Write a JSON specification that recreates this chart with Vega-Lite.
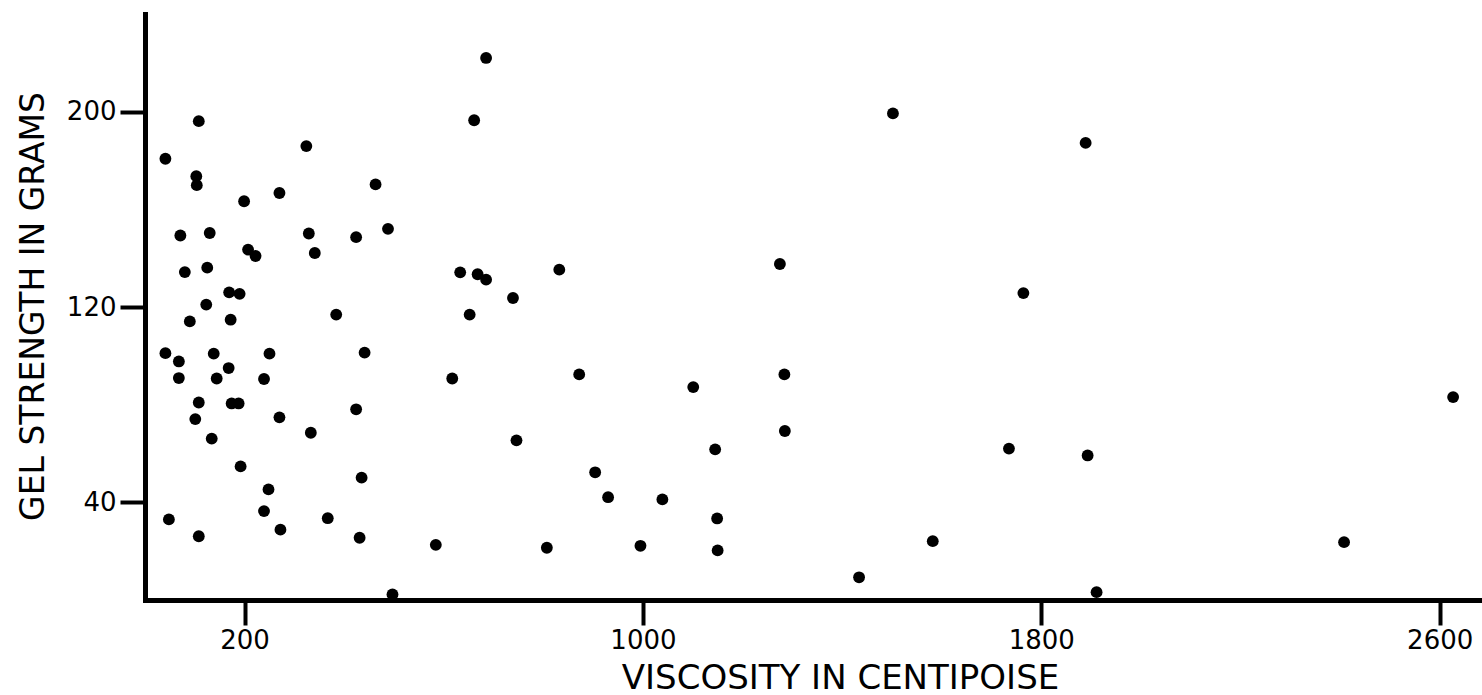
{
  "$schema": "https://vega.github.io/schema/vega-lite/v6.json",
  "autosize": "none",
  "width": 1337,
  "height": 586,
  "padding": {"left": 145, "top": 14, "right": 0, "bottom": 95},
  "background": "white",
  "config": {
    "view": {"stroke": null},
    "font": "DejaVu Sans"
  },
  "data": {
    "values": [
      {"viscosity": 685, "gel": 222.0},
      {"viscosity": 108, "gel": 196.1},
      {"viscosity": 661, "gel": 196.5},
      {"viscosity": 41, "gel": 180.7},
      {"viscosity": 324, "gel": 185.9},
      {"viscosity": 103, "gel": 173.6},
      {"viscosity": 104, "gel": 169.9},
      {"viscosity": 463, "gel": 170.2},
      {"viscosity": 270, "gel": 166.7},
      {"viscosity": 199, "gel": 163.3},
      {"viscosity": 71, "gel": 149.3},
      {"viscosity": 130, "gel": 150.3},
      {"viscosity": 329, "gel": 150.1},
      {"viscosity": 424, "gel": 148.6},
      {"viscosity": 488, "gel": 152.0},
      {"viscosity": 207, "gel": 143.5},
      {"viscosity": 222, "gel": 140.9},
      {"viscosity": 341, "gel": 142.1},
      {"viscosity": 80, "gel": 134.3},
      {"viscosity": 125, "gel": 136.1},
      {"viscosity": 633, "gel": 134.2},
      {"viscosity": 668, "gel": 133.4},
      {"viscosity": 685, "gel": 131.2},
      {"viscosity": 169, "gel": 126.0},
      {"viscosity": 190, "gel": 125.4},
      {"viscosity": 123, "gel": 121.0},
      {"viscosity": 384, "gel": 116.9},
      {"viscosity": 652, "gel": 116.9},
      {"viscosity": 90, "gel": 114.1},
      {"viscosity": 172, "gel": 114.8},
      {"viscosity": 41, "gel": 101.1},
      {"viscosity": 68, "gel": 97.7},
      {"viscosity": 68, "gel": 90.9},
      {"viscosity": 138, "gel": 100.9},
      {"viscosity": 168, "gel": 95.0},
      {"viscosity": 144, "gel": 90.7},
      {"viscosity": 250, "gel": 100.9},
      {"viscosity": 239, "gel": 90.5},
      {"viscosity": 441, "gel": 101.3},
      {"viscosity": 617, "gel": 90.7},
      {"viscosity": 108, "gel": 80.9},
      {"viscosity": 174, "gel": 80.5},
      {"viscosity": 188, "gel": 80.5},
      {"viscosity": 101, "gel": 74.1},
      {"viscosity": 270, "gel": 74.8},
      {"viscosity": 424, "gel": 78.1},
      {"viscosity": 333, "gel": 68.5},
      {"viscosity": 134, "gel": 66.1},
      {"viscosity": 192, "gel": 54.7},
      {"viscosity": 435, "gel": 50.1},
      {"viscosity": 248, "gel": 45.3},
      {"viscosity": 239, "gel": 36.4},
      {"viscosity": 367, "gel": 33.5},
      {"viscosity": 48, "gel": 33.0},
      {"viscosity": 108, "gel": 26.1},
      {"viscosity": 272, "gel": 28.8},
      {"viscosity": 431, "gel": 25.5},
      {"viscosity": 584, "gel": 22.6},
      {"viscosity": 497, "gel": 2.3},
      {"viscosity": 1502, "gel": 199.3},
      {"viscosity": 832, "gel": 135.3},
      {"viscosity": 1275, "gel": 137.6},
      {"viscosity": 739, "gel": 123.7},
      {"viscosity": 872, "gel": 92.4},
      {"viscosity": 1101, "gel": 87.2},
      {"viscosity": 1284, "gel": 92.4},
      {"viscosity": 746, "gel": 65.4},
      {"viscosity": 1285, "gel": 69.2},
      {"viscosity": 1145, "gel": 61.7},
      {"viscosity": 904, "gel": 52.3},
      {"viscosity": 930, "gel": 42.1},
      {"viscosity": 1039, "gel": 41.2},
      {"viscosity": 1149, "gel": 33.4},
      {"viscosity": 807, "gel": 21.4},
      {"viscosity": 995, "gel": 22.2},
      {"viscosity": 1150, "gel": 20.3},
      {"viscosity": 1582, "gel": 24.1},
      {"viscosity": 1434, "gel": 9.3},
      {"viscosity": 1889, "gel": 187.2},
      {"viscosity": 1764, "gel": 125.7},
      {"viscosity": 1735, "gel": 62.0},
      {"viscosity": 1893, "gel": 59.2},
      {"viscosity": 1911, "gel": 3.2},
      {"viscosity": 2627, "gel": 83.1},
      {"viscosity": 2408, "gel": 23.7}
    ]
  },
  "mark": {"type": "circle", "color": "black", "opacity": 1, "size": 140},
  "encoding": {
    "x": {
      "field": "viscosity",
      "type": "quantitative",
      "scale": {"domain": [0, 2685], "nice": false, "zero": false},
      "axis": {
        "title": "VISCOSITY IN CENTIPOISE",
        "values": [200, 1000, 1800, 2600],
        "format": "d",
        "grid": false,
        "domainColor": "black",
        "domainWidth": 5,
        "domainCap": "square",
        "tickColor": "black",
        "tickWidth": 4,
        "tickSize": 25,
        "labelFont": "DejaVu Sans",
        "labelFontSize": 26,
        "labelColor": "black",
        "labelPadding": 2,
        "titleFont": "DejaVu Sans",
        "titleFontSize": 34,
        "titleFontWeight": "normal",
        "titleColor": "black",
        "titleBaseline": "alphabetic",
        "titleAlign": "center",
        "titleX": 695,
        "titleY": 88
      }
    },
    "y": {
      "field": "gel",
      "type": "quantitative",
      "scale": {"domain": [0, 240], "nice": false, "zero": false},
      "axis": {
        "title": "GEL STRENGTH IN GRAMS",
        "values": [40, 120, 200],
        "grid": false,
        "domainColor": "black",
        "domainWidth": 5,
        "domainCap": "square",
        "tickColor": "black",
        "tickWidth": 4,
        "tickSize": 25,
        "labelFont": "DejaVu Sans",
        "labelFontSize": 26,
        "labelColor": "black",
        "labelPadding": 4,
        "titleFont": "DejaVu Sans",
        "titleFontSize": 33,
        "titleFontWeight": "normal",
        "titleColor": "black",
        "titleAngle": -90,
        "titleBaseline": "alphabetic",
        "titleAlign": "center",
        "titleX": -102,
        "titleY": 292
      }
    }
  }
}
